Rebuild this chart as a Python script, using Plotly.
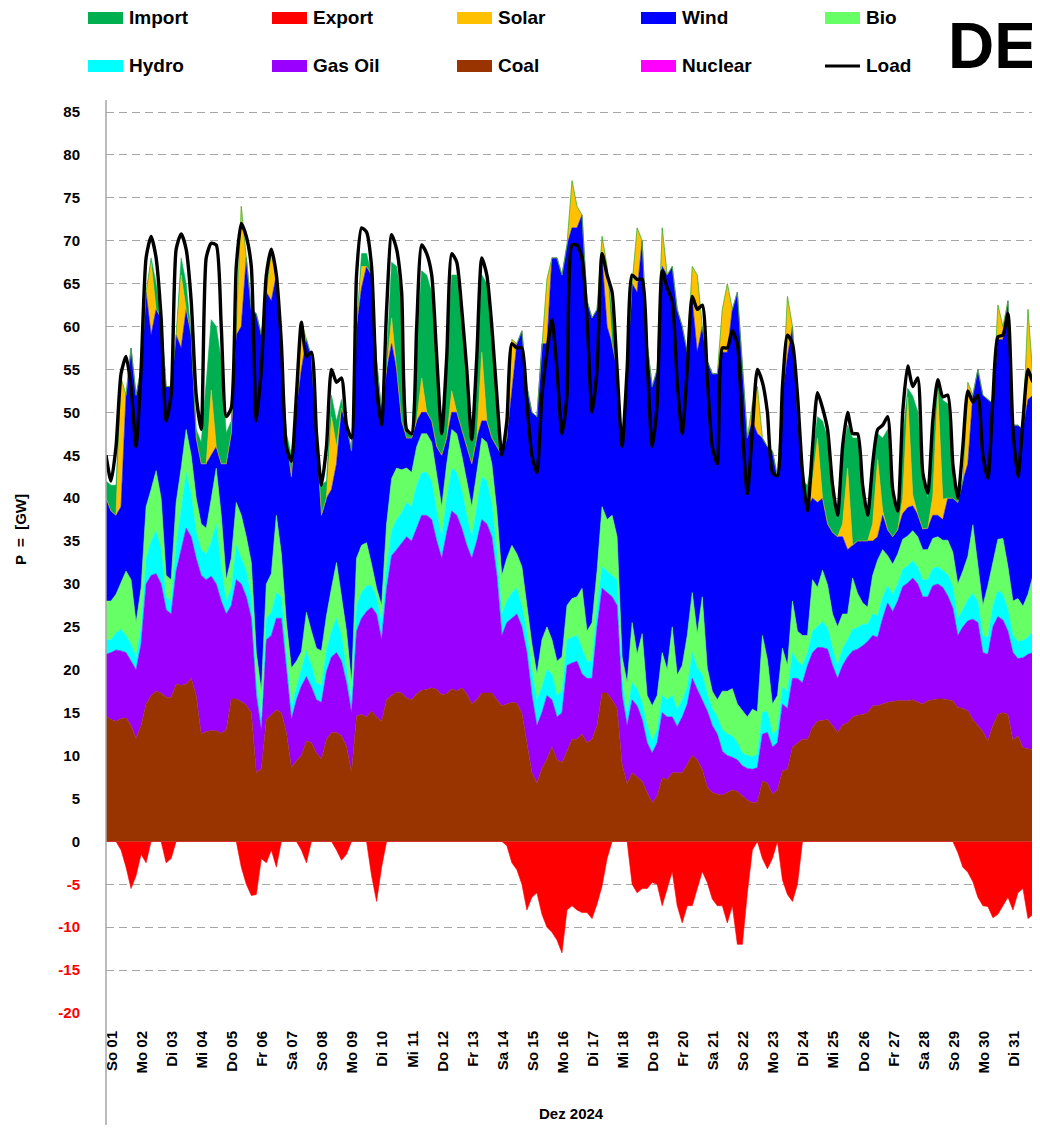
import plotly.graph_objects as go

# ---- data: 4-hourly samples (00,04,08,12,16,20 h) for each day of Dec 2024, plus end point ----
day_labels = ["So 01","Mo 02","Di 03","Mi 04","Do 05","Fr 06","Sa 07","So 08","Mo 09","Di 10",
              "Mi 11","Do 12","Fr 13","Sa 14","So 15","Mo 16","Di 17","Mi 18","Do 19","Fr 20",
              "Sa 21","So 22","Mo 23","Di 24","Mi 25","Do 26","Fr 27","Sa 28","So 29","Mo 30","Di 31"]

coal = [14.6,14.2,14.0,14.3,14.4,13.5, 12,13.5,16,17,17.5,17.3, 16.8,16.8,18.3,18.2,18.3,19,
        17,12.5,12.8,12.9,12.9,12.6, 13,16.6,16.6,16.3,15.9,15, 8,8.5,14.2,14.8,15.3,15,
        12.7,8.6,9.4,10,11.7,11.5, 10.3,9.6,11.9,12.7,12.7,12.3, 11.1,8,14.6,14.8,14.5,15.2,
        14.5,14,16.5,17,17.4,17.3, 16.7,16.5,17.2,17.6,17.7,17.9, 17.7,17.1,17.2,17.8,17.5,17.9,
        17.2,16,16.5,17.3,17.3,17.3, 16.5,15.8,16,16.2,16.1,15, 11.5,8,6.8,8.5,9.6,11,
        9.5,9.2,10.5,11.9,11.9,12.5, 11.5,11.9,13.5,17.3,17.3,16.5, 15.5,9,6.7,8,7.5,7,
        5.7,4.5,5.3,7.4,7.2,8, 8,8,9,10,9.5,8.4, 6.3,5.7,5.5,5.4,5.7,6,
        5.8,5.3,4.8,4.5,4.6,7, 6.8,5.5,6,8.2,8.4,11, 11.5,11.9,11.9,13.3,14,14.1,
        14.2,13.5,12.7,13.6,13.8,14.5, 14.7,14.8,15,15.8,15.8,16, 16.2,16.3,16.4,16.4,16.4,16.5,
        16.2,16,16.4,16.5,16.6,16.6, 16.5,16.4,15.6,15.5,15.2,14.2, 13.5,12.8,11.7,13.5,14.8,15,
        14.8,11.8,12.3,10.9,10.8,10.7, 9.6]

gas_oil = [7.2,7.8,8.3,7.9,7.6,7.5, 8,9.5,14,14,13.7,12.7, 10.2,9.7,13.2,15.8,18.2,16.5,
           16,18.5,17.7,18,17.1,15.4, 13.5,10.9,13.9,13.7,12.6,11, 9,4.5,9.3,9.2,10.7,11,
           7.8,5.6,7.1,8.1,7.5,6.5, 6.2,6.6,7.9,8.8,9.3,8.7, 7.4,7,9.9,11.2,12.3,12.1,
           12,9.5,13,16.3,16.6,17.5, 18.8,18.5,19.3,20.4,20.3,19.6, 17.3,15.9,18.8,20.7,20.5,18.6,
           17.3,17,18.5,20.2,19.7,18.2, 14.5,8.2,9.5,9.8,10.4,10, 10.5,9,6.7,6.5,7.4,5.5,
           5,5.8,10,8.9,9.1,7, 7.5,7.1,11.5,12.2,11.7,12, 12,8,6.8,8.5,8.3,7.2,
           5.8,5.8,6.2,7.6,7.3,6.5, 5.4,6.5,7,9,8.2,8.1, 8.9,7.8,7,5.1,4.3,3.8,
           3.7,3.5,3.7,3.9,4,5.5, 5.9,5.5,5.5,7.8,7.1,8, 7.5,6.6,8.6,8.7,8.6,8.5,
           8.2,7,6.3,6.9,7.7,7.7, 7.7,8,8.3,8.2,8,10, 11.6,10.5,11.6,13.3,13.7,14.2,
           13.8,12.5,12.1,13.3,13.4,13, 12.1,10.8,8.4,9.5,10.5,11.7, 12,9.2,10.1,11.5,11.4,10.8,
           9.7,10.2,9,10.5,11,11.3, 8.4]

hydro = [1.7,1.5,2,2.5,2,2, 1.5,2,3,4,5,4, 1.5,1.5,3,4.5,6.5,5, 3,3,3,4,7,4, 1.5,2,4,3,3,2.5,
         2,1.5,2.5,2.7,3,2.5, 1.5,1.5,1.5,2,3,2.5, 2,2,2.5,3,4,3, 2,1.5,3,3,3,2.5,
         2,2,2.5,3,3.5,3.5, 4,4,5,5,5,4.5, 3.5,2.5,4,5,5,4.5, 3.5,2.5,4,5,5,4,
         3,2.5,2.5,3,3,2.5, 2.5,3,3,3,3,3, 2.5,2.5,3,3,3,3, 2,2,2.5,2.5,2.5,2.5,
         3,2,1.5,2,2,2, 2,1.5,1.5,2,2,2.5, 2,2,2,3,2.5,3, 2,2,2,2.5,2.5,2.5,
         2,1.5,1.5,1.5,1.5,2.5, 2.5,1.5,1.5,2,2,3, 2,2,1.5,2.5,2.5,3, 2.5,2,1.5,2,2,2.5,
         2.5,2.5,2,2.5,2.5,2.5, 2,2,2,2,2,2, 2,2,2,2,2,2, 2.5,2.5,2,2,2.5,3,
         2.5,2,2,2.5,3,3, 2.5,2,2,2,2,2.5, 1.5]

bio = [4.5,4.5,4.5,5.5,7.5,7.5, 4,4.5,6,6,7,6, 2.5,2.5,5,5,5,4.5, 4,3,3,5,6.5,6, 2.5,3.5,5,5,4,4,
       3,3,4,4.5,9,5, 3.5,4.5,3,2,4.5,4, 4,4,4,5,6.5,4.5, 4,2,5.5,5.5,5,2.5,
       1,2,5,6,6,5, 4,4,4.5,4.5,4.5,4.5, 4,3.5,4,4.5,4.5,4, 4,3.5,4,4.5,4.5,4.5,
       4.5,4.5,5,5.5,4,4.5, 3,3,3,5.5,5,4, 4,4,4,4.5,4.5,7, 3.5,4.5,4,7,6,7,
       5,2.5,3.5,7,4,8, 3.5,4,4,5,3.5,8, 4,4,6,7,4,9, 3,2,2,4.5,5,5.5,
       4.5,5,4.5,5.5,5,9, 6,3.5,4,4.5,3,6, 3.5,3.5,2,6,4.5,6, 5,4,4.5,4,3,6,
       4,2.5,2,4.5,6.5,5.5, 3.5,3.5,3.5,3.5,3.5,3.5, 3.5,3.5,3.5,3.5,3.5,3.5, 4,4,4,4.5,5,8,
       4.5,3.5,6,5,6,6.5, 5,4,5,4,5,6.5, 3]

wind = [12,10.5,9.2,8.8,20.5,27, 26.5,25.5,25,18,18.8,21, 22,22.5,19.5,14,14,14,
        7,7,7.5,5.1,2.5,6, 13.5,14.5,19.5,22,32.5,29.5, 39.5,41.5,34,31.8,28,23.5,
        21.5,22.3,29.5,32.9,31.8,32, 25,15.8,13.7,11.5,11.5,22, 24,27,27,30,32.2,33.7,
        26.5,22.5,18,15.7,11.5,5.7, 3.5,4,3,2.5,2.5,2.5, 3.5,6,3,2,2.5,3,
        4,5,4,2,2.5,3, 7.5,14,14,18,24.5,27.5, 25.5,27,30,34.5,33,44.5,
        47,44.5,42,43.2,43,43.5, 38.5,35.5,30.5,29,22.5,20, 19.5,24.5,36.5,39.5,42.2,45.8,
        41,37.2,38,45,46,42, 42.6,39.5,33,34,32.8,31.5, 35.8,37,38,39.5,39.5,44.2,
        48,39.7,32.5,33.6,32.4,23, 24.8,29.5,25.5,29.5,36,32, 25.5,18,15,9.5,9.9,8.4,
        7.1,9.5,10.5,9,7.5,3.8, 6.1,7.2,7.7,4,2.7,4, 3,3.2,2.8,3,3.3,2.9,
        2.6,2.4,2.5,2.7,2.5,2.4, 4.9,6.3,9.5,10.5,10.8,15.1, 22.5,24.5,21.7,18.5,23.3,23.2,
        31,20.5,20.2,20.6,22.7,21, 38.5]

solar = [0,0,0,15,0,0, 0,0,0,8.5,0,0, 0,0,0,8.5,0,0, 0,0,0,7.6,0,0, 0,0,1,14,0,0,
         0,0,0,6,0,0, 0,0,0,5.5,0,0, 0,0,0,8.5,2,0, 0,0,0,2.5,0,0, 0,0,0,3,0,0,
         0,0,0,4,0,0, 0,0,0,2.5,0,0, 0,0,0,8,0,0, 0,0,0,6,0,0, 0,0,0,0,7.5,0,
         0,0,0,5.5,2.5,0, 0,0,0,2.5,7,0, 0,0,0,0,7.5,0, 0,0,0,4.5,0,0, 0,0,0,4,9,0,
         0,0,0,5,8,0, 0,0,0,2,5.5,0, 0,0,0,0,7,0, 0,0,0,2,7.5,0, 0,0,0,1.5,9.5,0,
         0,0,0,2,9,0.5, 0,0,0,1.8,12.9,1.3, 0,0,0,2.2,14.5,2.4, 0,0,0,0,9.5,0, 0,0,0,0,4,1.5,
         0,0,0,0,10.5,2, 0]

imports = [2,3,3.5,0,0,0, 0,0,0,0.5,3,0, 0,0,0,2,3,0, 1,2.5,9.5,8.2,14,12, 3.6,1.5,0,0,0,0,
           0,0,0,0,0,0, 0.5,2.5,0,0,0,0, 0,3.5,2,2.5,3,1, 0,0,0,1.5,1.5,0, 0,0,1,6.5,12,14,
           1,0.5,9,12.5,16,15, 10,2,9,13.5,16,12.5, 6,2.5,9,9,16,11, 5,0,0,0,0,0, 0,0,0,0,0,0,
           0,0,0,0,0,0, 0,0,0,0,0,3.5, 0,0,0,0,0,0, 0,0,0,0,0,0, 0,0,0,0,0,0,
           0,0,0,0,0,0, 0,0,0,0,0,0, 0,0,0,0,0,0, 0,0,2.5,3,2.5,9, 10,5,2,8,5,12.5,
           12,6,2.5,6.5,3,8.5, 11.7,5.2,2,7,1,11.5, 12,6.5,3.5,7,0.5,11.5, 11,3.5,0,0,0,0, 0,0,0,0,0,0,
           0,0,0,0,0,0, 0]

exports = [0,0,0,-1,-3,-5.5, -4,-1.5,-2.5,0,0,0, -2.5,-2,0,0,0,0, 0,0,0,0,0,0, 0,0,0,-3,-5,-6.3,
           -6.2,-2,-2.5,-1,-3,0, 0,0,0,-1,-2.5,0, 0,0,0,0,-1,-2.2, -1.5,0,0,0,0,-4, -7,-3,0,0,0,0,
           0,0,0,0,0,0, 0,0,0,0,0,0, 0,0,0,0,0,0, 0,0,-0.5,-2.5,-3.3,-5, -8,-6.5,-6,-8.5,-10,-10.6,
           -11.5,-13,-8,-7.5,-8,-8.3, -8.3,-9,-7.3,-5.2,-2,0, 0,0,0,-5,-6,-5.5, -5.5,-4.8,-5,-7.5,-5.5,-3.5,
           -7.5,-9.5,-7.5,-7.5,-5.5,-3.5, -4.8,-6.7,-7.5,-7.5,-9.5,-7.5, -12,-12,-6,-1,0,-2,
           -3.2,-2,0,-4.5,-6.2,-7, -5,0,0,0,0,0, 0,0,0,0,0,0, 0,0,0,0,0,0, 0,0,0,0,0,0,
           0,0,0,0,0,0, 0,0,-1.3,-3,-3.6,-4.7, -6.5,-7.5,-7.6,-8.9,-8.5,-7.5, -6.5,-8,-6,-5.5,-9,-8.5, -8]

load = [45,42,46,54.5,56.5,53, 46,55,68,70.5,68,61, 49,52,69,70.8,69,63, 52,48,68,69.7,69.5,60,
        49.5,50.5,67,72,70.5,67, 49,55,66,69,66,58, 46,44.3,52,60.5,56.5,57, 47.6,41.5,46,55,53.5,54,
        48.5,47,66,71.5,71,67, 53,48.5,62,70.7,69,64, 48,47.5,60,69.5,68.5,66, 56.5,47.5,56.5,68.5,67.5,62,
        55,46.8,56.5,68,66,60, 52,45,49,58,57.5,57.5, 51,45,43,52,57,60.8, 55,47.5,52,69.5,69.5,68,
        61,50,55,68.5,66,64, 55,46,55,66,65.5,65.5, 56,46,51,66.5,64.5,63, 53.5,47.5,55,63.5,62,62.5,
        54,46,44,57.5,57.5,59.5, 58,48,40.5,48,55,53.5, 50,43,42.6,53,59,58, 52,43,38.5,46,52.3,50.5,
        48,41.5,38,46,50,47.5, 47.5,41.5,38,44,48,48.5, 49.5,41,38.5,50,55.4,53, 54,43,40.6,49,53.8,51.8,
        52,44,40,46,52.5,51.2, 52,45,42.3,51.5,58.8,59, 61.5,48,42.5,49,55,53.5, 57]

# ---- figure ----
n = len(load)
t = [i / 6 for i in range(n)]          # time in days since 1 Dec 00:00 (4-hour steps)

colors = {"Import": "#00b050", "Export": "#ff0000", "Solar": "#ffc000", "Wind": "#0000ff",
          "Bio": "#66ff66", "Hydro": "#00ffff", "Gas Oil": "#9900ff", "Coal": "#993300",
          "Nuclear": "#ff00ff", "Load": "#000000"}

fig = go.Figure()
for name, vals in [("Coal", coal), ("Gas Oil", gas_oil), ("Hydro", hydro), ("Bio", bio),
                   ("Wind", wind), ("Solar", solar), ("Import", imports)]:
    fig.add_trace(go.Scatter(x=t, y=vals, name=name, mode="lines", stackgroup="pos",
                             line=dict(width=0.6, color=colors[name]), fillcolor=colors[name],
                             showlegend=False))
fig.add_trace(go.Scatter(x=t, y=exports, name="Export", mode="lines", stackgroup="neg",
                         line=dict(width=0.6, color=colors["Export"]), fillcolor=colors["Export"],
                         showlegend=False))
fig.add_trace(go.Scatter(x=t, y=load, name="Load", mode="lines",
                         line=dict(width=3.4, color="black", shape="spline", smoothing=0.6),
                         showlegend=False))

# The page body adds an 8px offset, so positions below are given in screen pixels and shifted.
OFF = 8
W_, H_ = 1040, 1129
L, R, T, B = 106 - OFF, 1038 - OFF, 100 - OFF, 1013 - OFF
def px(x): return (x - OFF - L) / (R - L)
def py(y): return (B - (y - OFF)) / (B - T)

FONT = "Liberation Sans"
yt = list(range(-20, 90, 5))
ytext = [f'<span style="color:#ff0000">{v}</span>' if v < 0 else str(v) for v in yt]

fig.update_layout(
    width=W_, height=H_,
    margin=dict(l=L, r=W_ - R, t=T, b=H_ - B, autoexpand=False),
    paper_bgcolor="white", plot_bgcolor="white",
    font=dict(family=FONT, color="black"),
    xaxis=dict(range=[0, 31], tickvals=[d + 0.2 for d in range(31)], ticktext=day_labels,
               tickangle=-90, showgrid=False, zeroline=False, showline=False,
               ticks="outside", ticklen=11, tickcolor="rgba(0,0,0,0)",
               automargin=False,
               tickfont=dict(family=FONT, size=15, weight="bold", color="black")),
    yaxis=dict(range=[-20, 86.4], tickvals=yt, ticktext=ytext, showgrid=True,
               gridcolor="#a6a6a6", gridwidth=1, griddash="8px,5px",
               zeroline=True, zerolinecolor="#a6a6a6", zerolinewidth=1.3, showline=False,
               ticks="outside", ticklen=22, tickcolor="rgba(0,0,0,0)", automargin=False,
               tickfont=dict(family=FONT, size=15, weight="bold", color="black")),
)

# left axis line
fig.add_shape(type="line", xref="paper", yref="paper", x0=0, x1=0, y0=py(1125), y1=1,
              line=dict(color="#a6a6a6", width=1.5))

# legend (drawn manually, 2 rows x 5 columns)
legend_rows = [["Import", "Export", "Solar", "Wind", "Bio"],
               ["Hydro", "Gas Oil", "Coal", "Nuclear", "Load"]]
col_x = [88, 272, 457, 641, 825]
row_y = [18, 66]
for r, row in enumerate(legend_rows):
    for c, name in enumerate(row):
        x0 = col_x[c]; yc = row_y[r]
        if name == "Load":
            fig.add_shape(type="line", xref="paper", yref="paper", x0=px(x0), x1=px(x0 + 35),
                          y0=py(yc), y1=py(yc), line=dict(color="black", width=3))
        else:
            fig.add_shape(type="rect", xref="paper", yref="paper", x0=px(x0), x1=px(x0 + 35),
                          y0=py(yc + 6), y1=py(yc - 6), line=dict(width=0), fillcolor=colors[name])
        fig.add_annotation(x=px(x0 + 39), y=py(yc), xref="paper", yref="paper", text=name,
                           showarrow=False, xanchor="left", yanchor="middle",
                           font=dict(family=FONT, size=19, weight="bold", color="black"))

fig.add_annotation(x=px(1039), y=py(46), xref="paper", yref="paper", text="DE", showarrow=False,
                   xanchor="right", yanchor="middle",
                   font=dict(family=FONT, size=64, weight="bold", color="black"))
fig.add_annotation(x=px(20), y=py(530), xref="paper", yref="paper", text="P  =  [GW]", showarrow=False,
                   textangle=-90, xanchor="center", yanchor="middle",
                   font=dict(family=FONT, size=15, weight="bold", color="black"))
fig.add_annotation(x=px(571), y=py(1113), xref="paper", yref="paper", text="Dez 2024", showarrow=False,
                   xanchor="center", yanchor="middle",
                   font=dict(family=FONT, size=15, weight="bold", color="black"))

fig.write_html("out.html")
